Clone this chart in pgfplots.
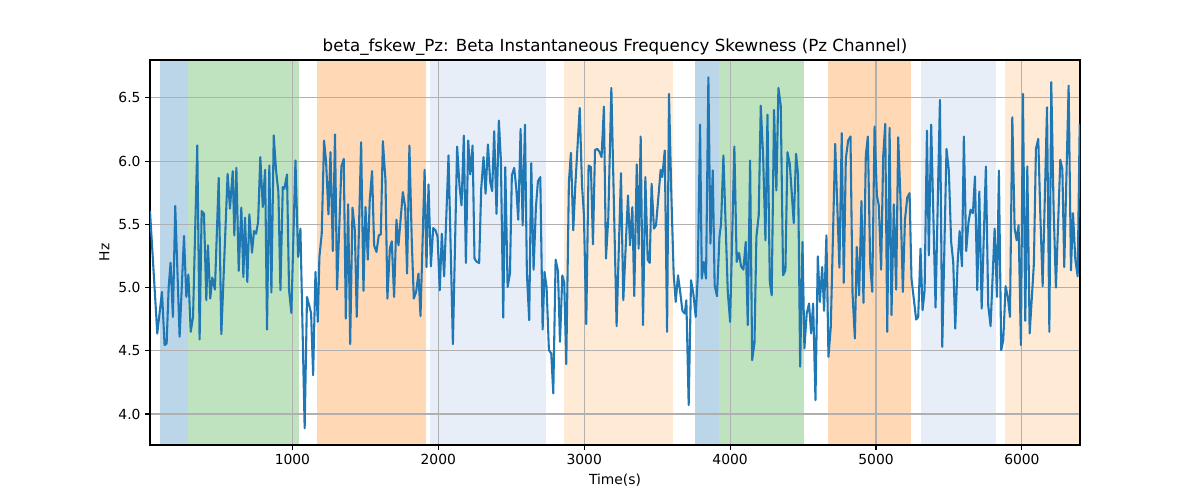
\documentclass[border=0pt]{standalone}
\usepackage{fontspec}
\setmainfont{DejaVu Sans}
\usepackage{pgfplots}
\pgfplotsset{compat=1.18}
\definecolor{tabblue}{HTML}{1F77B4}
\definecolor{tabgreen}{HTML}{2CA02C}
\definecolor{taborange}{HTML}{FF7F0E}
\definecolor{lblue}{HTML}{AEC7E8}
\definecolor{lorange}{HTML}{FFBB78}
\definecolor{gridgray}{HTML}{B0B0B0}
\begin{document}
\begin{tikzpicture}
\begin{axis}[
  set layers,
  clip mode=individual,
  scale only axis, width=697.5pt, height=288.75pt,
  xmin=24, xmax=6398, ymin=3.755, ymax=6.80,
  axis line style={line width=0.83pt},
  every tick/.style={black, line width=0.83pt},
  major tick length=3.6pt,
  tick align=outside,
  xtick pos=bottom, ytick pos=left,
  xtick={1000,2000,3000,4000,5000,6000},
  ytick={4.0,4.5,5.0,5.5,6.0,6.5},
  /pgf/number format/assume math mode=true,
  /pgf/number format/1000 sep={},
  yticklabel style={/pgf/number format/fixed, /pgf/number format/precision=1, /pgf/number format/fixed zerofill},
  ticklabel style={font=\fontsize{10.4}{12}\selectfont},
  grid=major,
  major grid style={gridgray, line width=0.83pt},
  xlabel={Time(s)}, ylabel={Hz},
  label style={font=\fontsize{10.4}{12}\selectfont},
  title={beta\_fskew\_Pz: Beta Instantaneous Frequency Skewness (Pz Channel)},
  title style={font=\fontsize{12.5}{15}\selectfont, at={(0.5,1)}, anchor=south, yshift=-6pt},
]
\addplot[on layer=axis background, draw=none, fill=tabblue, fill opacity=0.3] coordinates {(92,6.8) (285,6.8)} \closedcycle;
\addplot[on layer=axis background, draw=none, fill=tabgreen, fill opacity=0.3] coordinates {(285,6.8) (1043,6.8)} \closedcycle;
\addplot[on layer=axis background, draw=none, fill=taborange, fill opacity=0.3] coordinates {(1171,6.8) (1917,6.8)} \closedcycle;
\addplot[on layer=axis background, draw=none, fill=lblue, fill opacity=0.3] coordinates {(1944,6.8) (2735,6.8)} \closedcycle;
\addplot[on layer=axis background, draw=none, fill=lorange, fill opacity=0.3] coordinates {(2861,6.8) (3611,6.8)} \closedcycle;
\addplot[on layer=axis background, draw=none, fill=tabblue, fill opacity=0.3] coordinates {(3760,6.8) (3924,6.8)} \closedcycle;
\addplot[on layer=axis background, draw=none, fill=tabgreen, fill opacity=0.3] coordinates {(3924,6.8) (4509,6.8)} \closedcycle;
\addplot[on layer=axis background, draw=none, fill=taborange, fill opacity=0.3] coordinates {(4669,6.8) (5243,6.8)} \closedcycle;
\addplot[on layer=axis background, draw=none, fill=lblue, fill opacity=0.3] coordinates {(5307,6.8) (5822,6.8)} \closedcycle;
\addplot[on layer=axis background, draw=none, fill=lorange, fill opacity=0.3] coordinates {(5884,6.8) (6398,6.8)} \closedcycle;
\addplot[tabblue, line width=1.56pt, line join=round, no markers] table {
x y
24 5.605
74 4.637
106 4.966
124 4.545
138 4.558
152 5.005
165 5.197
181 4.768
197 5.645
227 4.611
257 5.408
273 4.926
287 5.103
303 4.650
319 4.768
348 6.124
364 4.589
378 5.605
394 5.584
410 4.900
421 5.334
437 4.913
451 5.079
469 4.984
495 5.868
513 4.632
556 5.900
572 5.624
591 5.921
602 5.413
616 5.947
632 5.132
650 5.632
664 5.084
675 5.553
691 5.045
705 5.579
723 5.276
737 5.447
751 5.426
765 5.518
780 6.032
797 5.637
813 5.932
826 4.668
842 5.966
856 4.961
872 6.203
888 5.926
904 5.755
918 4.979
934 5.795
945 5.782
963 5.895
977 4.979
993 4.800
1021 6.005
1039 5.242
1055 5.466
1084 3.887
1100 4.926
1128 4.800
1142 4.308
1158 5.124
1174 4.729
1185 5.242
1201 5.426
1217 6.163
1231 5.992
1247 5.579
1261 6.071
1277 5.289
1292 6.211
1306 4.984
1336 5.958
1352 6.018
1366 4.755
1382 5.658
1396 4.553
1412 5.632
1428 5.453
1441 4.768
1471 6.150
1487 4.974
1501 5.637
1517 5.221
1530 5.689
1546 5.921
1560 5.334
1576 5.282
1592 5.413
1606 5.421
1620 6.158
1638 5.847
1651 4.913
1668 5.308
1681 5.366
1697 4.926
1713 5.537
1727 5.334
1757 5.755
1773 5.637
1786 5.111
1802 6.124
1818 5.374
1832 4.913
1848 4.966
1864 5.111
1878 4.774
1906 5.932
1919 5.163
1933 5.816
1949 5.168
1965 5.471
1981 5.453
1995 5.400
2010 4.979
2024 5.426
2040 5.089
2070 6.045
2100 4.553
2129 6.116
2145 5.808
2159 5.650
2175 6.203
2189 5.195
2205 6.163
2219 5.895
2235 6.124
2248 5.229
2264 5.203
2280 5.195
2294 5.782
2310 6.032
2324 5.742
2340 6.132
2356 5.834
2369 5.763
2383 6.237
2399 5.584
2415 6.321
2429 6.005
2445 4.763
2459 5.953
2475 5.005
2491 5.111
2504 5.887
2520 5.947
2534 5.790
2548 5.537
2564 6.255
2578 5.492
2594 6.289
2607 5.116
2623 4.742
2637 5.984
2653 5.142
2669 5.637
2683 5.842
2699 5.874
2715 4.668
2728 5.124
2742 5.005
2758 4.505
2774 4.479
2788 4.163
2804 5.221
2820 5.132
2834 4.571
2850 5.097
2863 5.037
2877 4.395
2895 5.834
2909 6.066
2925 5.453
2939 5.808
2955 6.132
2969 6.421
2985 5.808
2998 5.571
3014 4.711
3030 5.966
3046 5.953
3060 5.342
3074 6.089
3090 6.097
3106 6.071
3119 6.032
3135 6.432
3149 5.229
3165 5.550
3186 6.579
3222 4.695
3252 5.905
3268 4.900
3300 5.729
3314 5.334
3330 5.637
3343 4.932
3360 5.974
3373 5.308
3387 6.195
3403 4.703
3419 5.874
3435 5.221
3449 5.195
3462 5.821
3478 5.466
3492 5.492
3524 5.932
3535 5.874
3552 6.084
3568 4.650
3581 6.532
3597 5.742
3613 5.111
3627 4.887
3643 5.097
3659 4.953
3673 4.816
3689 4.795
3700 4.900
3716 4.071
3732 5.058
3748 4.953
3764 4.768
3778 5.084
3794 6.289
3806 5.071
3819 5.203
3835 5.071
3851 6.663
3865 5.347
3881 5.926
3894 5.018
3910 4.932
3927 5.400
3938 5.505
3954 6.045
3984 4.966
4000 4.729
4029 6.116
4045 5.203
4061 5.274
4075 5.168
4091 5.142
4107 5.361
4121 4.703
4137 6.005
4151 4.426
4167 4.563
4180 5.400
4196 5.571
4210 6.439
4226 6.045
4242 5.374
4256 6.368
4272 5.045
4285 4.939
4301 6.405
4317 5.768
4331 6.579
4347 6.439
4363 5.097
4379 5.137
4393 6.071
4409 5.979
4436 5.511
4452 6.058
4466 5.887
4480 4.374
4496 5.361
4509 4.518
4525 4.795
4541 4.874
4555 4.637
4569 4.874
4585 4.111
4601 5.247
4615 4.887
4631 5.163
4644 4.816
4660 5.413
4674 4.453
4690 4.689
4720 6.137
4749 5.158
4765 6.221
4779 5.037
4793 6.018
4809 6.163
4825 6.195
4839 4.953
4855 4.597
4868 5.321
4884 4.939
4900 5.684
4914 4.879
4930 6.045
4944 6.195
4960 5.189
4974 4.966
4990 6.274
5006 5.729
5019 5.650
5035 5.142
5049 6.032
5063 6.295
5077 4.650
5093 6.263
5106 4.782
5122 5.658
5138 4.984
5152 6.189
5168 5.689
5184 4.966
5198 5.532
5214 5.711
5230 5.747
5243 5.071
5275 4.747
5289 4.768
5305 5.308
5319 4.821
5333 4.979
5349 6.242
5362 5.255
5378 6.289
5408 4.842
5438 6.484
5454 4.532
5483 6.097
5499 5.926
5515 5.361
5529 5.203
5543 4.676
5559 5.189
5573 5.447
5589 5.168
5602 6.195
5618 5.289
5634 5.518
5648 5.616
5664 5.589
5678 5.879
5694 4.980
5708 5.760
5724 4.834
5753 5.958
5769 4.861
5785 4.695
5813 5.466
5829 4.926
5842 5.926
5858 4.505
5872 4.584
5888 5.011
5904 4.921
5918 4.768
5934 6.347
5950 5.466
5964 5.374
5977 5.492
5993 4.545
6007 6.532
6023 4.737
6037 5.958
6053 4.637
6082 5.189
6096 6.097
6112 6.176
6126 5.579
6142 5.011
6172 6.426
6188 4.650
6201 6.624
6217 5.632
6233 5.000
6263 6.011
6277 5.939
6290 5.163
6320 6.597
6336 5.137
6350 5.589
6366 5.221
6382 5.089
6396 6.295
};
\end{axis}
\path (-112.5pt,-41.25pt) rectangle (787.5pt,333.75pt);
\end{tikzpicture}
\end{document}
